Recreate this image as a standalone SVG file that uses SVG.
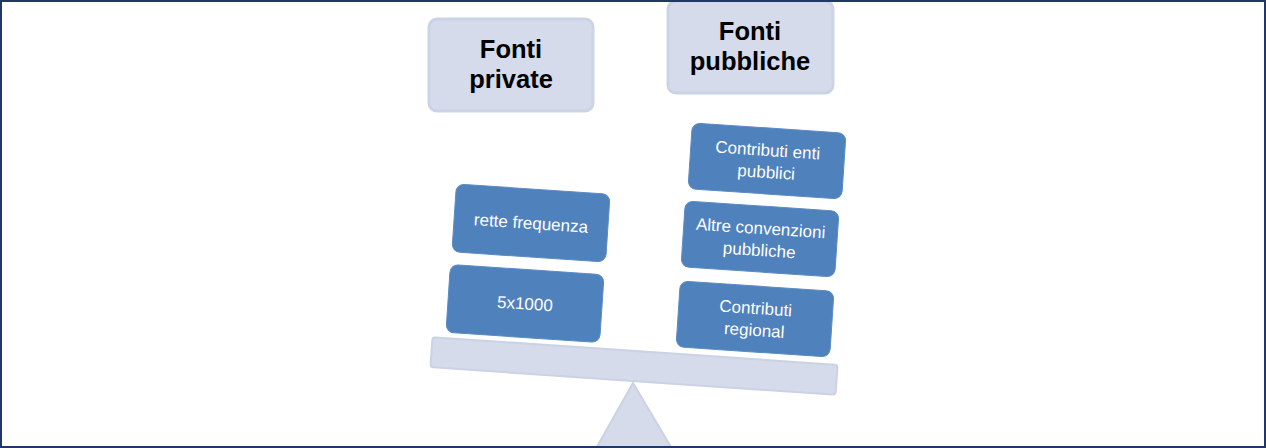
<svg xmlns="http://www.w3.org/2000/svg" width="1266" height="448" viewBox="0 0 1266 448">
<style>
.head{fill:#D5DBEA;stroke:#CCD3E5;stroke-width:3}
.headtxt{font-family:"Liberation Sans",Arial,sans-serif;font-weight:bold;font-size:25.5px;fill:#000;text-anchor:middle}
.blue{fill:#4F81BD;stroke:#5B8BC3;stroke-width:1}
.btxt{font-family:"Liberation Sans",Arial,sans-serif;font-size:17px;fill:#fff;text-anchor:middle}
.scale{fill:#D5DBEA;stroke:#CBD2E4;stroke-width:2}
</style>
<rect x="0" y="0" width="1266" height="448" fill="#fff"/>
<g id="scale">
<polygon class="scale" points="633,383 594,452 674,452"/>
<rect class="scale" x="-203" y="-15" width="406" height="30" rx="3" transform="translate(634,366) rotate(3.9)"/>
</g>
<g id="fonti-private">
<rect class="head" x="429" y="19" width="164" height="92" rx="8"/>
<text class="headtxt" x="511" y="58">Fonti</text>
<text class="headtxt" x="511" y="88">private</text>
</g>
<g id="fonti-pubbliche">
<rect class="head" x="668" y="1" width="165" height="92" rx="8"/>
<text class="headtxt" x="750" y="40">Fonti</text>
<text class="headtxt" x="750" y="70">pubbliche</text>
</g>
<g id="rette-frequenza" transform="translate(531,223) rotate(3.8)">
<rect class="blue" x="-77" y="-34" width="154" height="68" rx="8"/>
<text class="btxt" x="0" y="6">rette frequenza</text>
</g>
<g id="cinque-per-mille" transform="translate(525,303.5) rotate(3.8)">
<rect class="blue" x="-77" y="-34" width="154" height="68" rx="8"/>
<text class="btxt" x="0" y="6">5x1000</text>
</g>
<g id="contributi-enti-pubblici" transform="translate(767,161) rotate(3.8)">
<rect class="blue" x="-77" y="-33" width="154" height="66" rx="8"/>
<text class="btxt" x="0" y="-5">Contributi enti</text>
<text class="btxt" x="0" y="17">pubblici</text>
</g>
<g id="altre-convenzioni" transform="translate(760,239) rotate(3.8)">
<rect class="blue" x="-77" y="-33" width="154" height="66" rx="8"/>
<text class="btxt" x="0" y="-5">Altre convenzioni</text>
<text class="btxt" x="0" y="17">pubbliche</text>
</g>
<g id="contributi-regional" transform="translate(755,319) rotate(3.8)">
<rect class="blue" x="-77" y="-33" width="154" height="66" rx="8"/>
<text class="btxt" x="0" y="-5">Contributi</text>
<text class="btxt" x="0" y="17">regional</text>
</g>
<g id="connectors"></g>
<rect x="1" y="1" width="1264" height="446" fill="none" stroke="#1F3864" stroke-width="2"/>
</svg>
